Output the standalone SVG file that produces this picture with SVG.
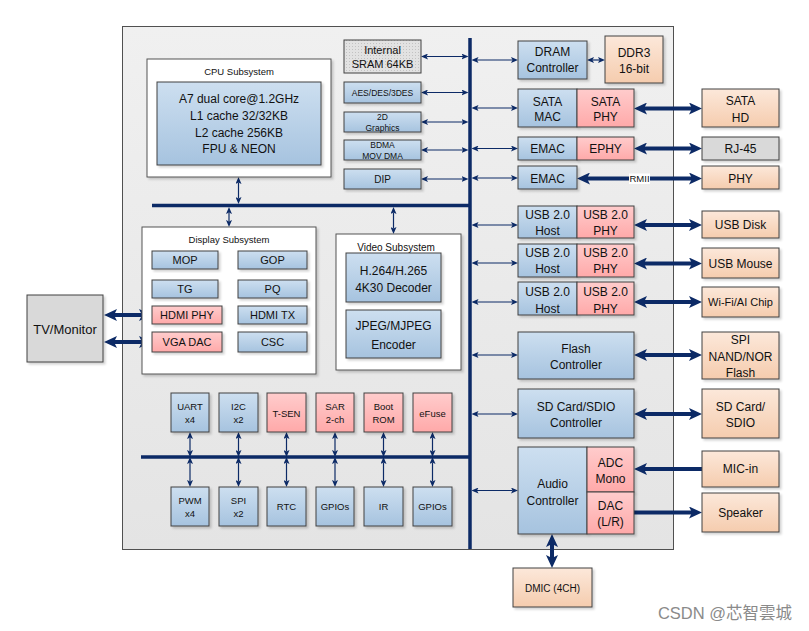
<svg xmlns="http://www.w3.org/2000/svg" width="809" height="631" viewBox="0 0 809 631">
<defs>
  <linearGradient id="gBlue" x1="0" y1="0" x2="0" y2="1"><stop offset="0" stop-color="#cddff0"/><stop offset="1" stop-color="#a6c3df"/></linearGradient>
  <linearGradient id="gPink" x1="0" y1="0" x2="0" y2="1"><stop offset="0" stop-color="#ffcccc"/><stop offset="1" stop-color="#ffa9a9"/></linearGradient>
  <linearGradient id="gPeach" x1="0" y1="0" x2="0" y2="1"><stop offset="0" stop-color="#fce8da"/><stop offset="1" stop-color="#f5ccae"/></linearGradient>
  <linearGradient id="gChip" x1="0" y1="0" x2="0" y2="1"><stop offset="0" stop-color="#f0f0f0"/><stop offset="1" stop-color="#e4e4e4"/></linearGradient>
  <pattern id="pDots" width="3" height="3" patternUnits="userSpaceOnUse"><rect width="3" height="3" fill="#e2e2e2"/><rect x="1" y="1" width="1" height="1" fill="#c2c2c2"/></pattern>
  <filter id="sh" x="-10%" y="-10%" width="130%" height="130%"><feDropShadow dx="2" dy="2" stdDeviation="1" flood-color="#000" flood-opacity="0.18"/></filter>
  <marker id="ah" viewBox="0 0 7 6" markerWidth="7" markerHeight="6" refX="1.5" refY="3" orient="auto-start-reverse" markerUnits="userSpaceOnUse"><path d="M0,0 L7,3 L0,6 L1.5,3 z" fill="#0c2a66"/></marker>
  <marker id="big" viewBox="0 0 13 12" markerWidth="13" markerHeight="12" refX="3" refY="6" orient="auto-start-reverse" markerUnits="userSpaceOnUse"><path d="M0,0 L13,6 L0,12 L3,6 z" fill="#0c2a66"/></marker>
</defs>
<style>
  text{font-family:"Liberation Sans",Arial,sans-serif;fill:#111;text-anchor:middle}
  .b{fill:url(#gBlue);stroke:#404040;stroke-width:1;filter:url(#sh)}
  .p{fill:url(#gPink);stroke:#404040;stroke-width:1;filter:url(#sh)}
  .o{fill:url(#gPeach);stroke:#404040;stroke-width:1;filter:url(#sh)}
  .g{fill:#d9d9d9;stroke:#404040;stroke-width:1;filter:url(#sh)}
  .w{fill:#fff;stroke:#555;stroke-width:1;filter:url(#sh)}
  .t12{font-size:12px}
  .t11{font-size:11px}
  .t10{font-size:10px}
  .t9{font-size:9.5px}
  .t8{font-size:8.5px}
  .bus{stroke:#0c2a66;stroke-width:3.5;fill:none}
  .thin{stroke:#0c2a66;stroke-width:1.2;fill:none;marker-start:url(#ah);marker-end:url(#ah)}
  .thick{stroke:#0c2a66;stroke-width:4;fill:none;marker-start:url(#big);marker-end:url(#big)}
  .thick1{stroke:#0c2a66;stroke-width:4;fill:none;marker-end:url(#big)}
</style>

<g id="chip"><rect x="122.5" y="26.5" width="551" height="523" fill="url(#gChip)" stroke="#505050" stroke-width="1"/></g>

<g id="connectors">
  <line class="bus" x1="470" y1="38" x2="470" y2="549"/>
  <line class="bus" x1="152" y1="205.5" x2="470" y2="205.5"/>
  <line class="bus" x1="141" y1="457" x2="470" y2="457"/>
  <line class="thin" x1="426.5" y1="56.5" x2="463" y2="56.5"/>
  <line class="thin" x1="426.5" y1="92.5" x2="463" y2="92.5"/>
  <line class="thin" x1="426.5" y1="122" x2="463" y2="122"/>
  <line class="thin" x1="426.5" y1="150" x2="463" y2="150"/>
  <line class="thin" x1="426.5" y1="179" x2="463" y2="179"/>
  <line class="thin" x1="477" y1="60" x2="512.5" y2="60"/>
  <line class="thin" x1="477" y1="108" x2="512.5" y2="108"/>
  <line class="thin" x1="477" y1="148.5" x2="512.5" y2="148.5"/>
  <line class="thin" x1="477" y1="178" x2="512.5" y2="178"/>
  <line class="thin" x1="477" y1="225" x2="512.5" y2="225"/>
  <line class="thin" x1="477" y1="263" x2="512.5" y2="263"/>
  <line class="thin" x1="477" y1="302" x2="512.5" y2="302"/>
  <line class="thin" x1="477" y1="355" x2="512.5" y2="355"/>
  <line class="thin" x1="477" y1="414" x2="512.5" y2="414"/>
  <line class="thin" x1="477" y1="490.5" x2="512.5" y2="490.5"/>
  <line class="thin" x1="592.5" y1="60" x2="599.5" y2="60"/>
  <line class="thin" x1="238.5" y1="182.5" x2="238.5" y2="198.5"/>
  <line class="thin" x1="229" y1="212.5" x2="229" y2="221.5"/>
  <line class="thin" x1="393.5" y1="212.5" x2="393.5" y2="228.5"/>
  <line class="thin" x1="190" y1="437.5" x2="190" y2="451.5"/>
  <line class="thin" x1="190" y1="462.5" x2="190" y2="481.5"/>
  <line class="thin" x1="238.5" y1="437.5" x2="238.5" y2="451.5"/>
  <line class="thin" x1="238.5" y1="462.5" x2="238.5" y2="481.5"/>
  <line class="thin" x1="286.5" y1="437.5" x2="286.5" y2="451.5"/>
  <line class="thin" x1="286.5" y1="462.5" x2="286.5" y2="481.5"/>
  <line class="thin" x1="335" y1="437.5" x2="335" y2="451.5"/>
  <line class="thin" x1="335" y1="462.5" x2="335" y2="481.5"/>
  <line class="thin" x1="383.5" y1="437.5" x2="383.5" y2="451.5"/>
  <line class="thin" x1="383.5" y1="462.5" x2="383.5" y2="481.5"/>
  <line class="thin" x1="432.5" y1="437.5" x2="432.5" y2="451.5"/>
  <line class="thin" x1="432.5" y1="462.5" x2="432.5" y2="481.5"/>
  <line class="thick" x1="644" y1="108.5" x2="692" y2="108.5"/>
  <line class="thick" x1="644" y1="148.5" x2="692" y2="148.5"/>
  <line class="thick" x1="587" y1="178.5" x2="692" y2="178.5"/>
  <line class="thick" x1="644" y1="225" x2="692" y2="225"/>
  <line class="thick" x1="644" y1="263.5" x2="692" y2="263.5"/>
  <line class="thick" x1="644" y1="302" x2="692" y2="302"/>
  <line class="thick" x1="644" y1="355" x2="692" y2="355"/>
  <line class="thick" x1="644" y1="414" x2="692" y2="414"/>
  <line class="thick1" x1="702" y1="469" x2="644" y2="469"/>
  <line class="thick1" x1="634" y1="512.5" x2="692" y2="512.5"/>
  <line class="thick" x1="552" y1="544" x2="552" y2="558"/>
  <line class="thick" x1="114" y1="315" x2="142" y2="315"/>
  <line class="thick" x1="114" y1="342" x2="142" y2="342"/>
  <rect x="629" y="173.5" width="21" height="10.5" fill="#fff"/>
  <text x="639.5" y="182" style="font-size:9.5px">RMII</text>
</g>

<g id="cpu">
  <rect class="w" x="147" y="59" width="184" height="118"/>
  <text class="t9" x="239" y="75">CPU Subsystem</text>
  <rect class="b" x="157" y="82" width="164" height="83"/>
  <text class="t12" x="239" y="103">A7 dual core@1.2GHz</text>
  <text class="t12" x="239" y="120">L1 cache 32/32KB</text>
  <text class="t12" x="239" y="137">L2 cache 256KB</text>
  <text class="t12" x="239" y="152.5">FPU &amp; NEON</text>
</g>

<g id="sram"><rect x="344" y="40" width="77" height="33" fill="url(#pDots)" stroke="#404040"/><text class="t11" x="382.5" y="54">Internal</text><text class="t11" x="382.5" y="67.5">SRAM 64KB</text></g>
<g id="aes"><rect class="b" x="344" y="82" width="77" height="21"/><text class="t8" x="382.5" y="95.5">AES/DES/3DES</text></g>
<g id="g2d"><rect class="b" x="344" y="112" width="77" height="20"/><text class="t8" x="382.5" y="119.5">2D</text><text class="t8" x="382.5" y="130.5">Graphics</text></g>
<g id="bdma"><rect class="b" x="344" y="140" width="77" height="20"/><text class="t8" x="382.5" y="148">BDMA</text><text class="t8" x="382.5" y="159">MOV DMA</text></g>
<g id="dip"><rect class="b" x="344" y="169" width="77" height="20"/><text class="t10" x="382.5" y="182.5">DIP</text></g>

<g id="dram"><rect class="b" x="518" y="41" width="69" height="38"/><text class="t12" x="552.5" y="56">DRAM</text><text class="t12" x="552.5" y="72">Controller</text></g>
<g id="ddr3"><rect class="o" x="605" y="36" width="58" height="47"/><text class="t12" x="634" y="56.5">DDR3</text><text class="t12" x="634" y="72.5">16-bit</text></g>
<g id="sata"><rect class="b" x="518" y="89" width="59" height="38"/><rect class="p" x="577" y="89" width="57" height="38"/><text class="t12" x="547.5" y="105.5">SATA</text><text class="t12" x="547.5" y="120.5">MAC</text><text class="t12" x="605.5" y="105.5">SATA</text><text class="t12" x="605.5" y="120.5">PHY</text></g>
<g id="satahd"><rect class="o" x="702" y="89" width="77" height="38"/><text class="t12" x="740.5" y="104.5">SATA</text><text class="t12" x="740.5" y="121.5">HD</text></g>
<g id="emac1"><rect class="b" x="518" y="137" width="59" height="23"/><rect class="p" x="577" y="137" width="57" height="23"/><text class="t12" x="547.5" y="153">EMAC</text><text class="t12" x="605.5" y="153">EPHY</text></g>
<g id="rj45"><rect class="g" x="702" y="137" width="77" height="23"/><text class="t12" x="740.5" y="153">RJ-45</text></g>
<g id="emac2"><rect class="b" x="518" y="166" width="59" height="23"/><text class="t12" x="547.5" y="182.5">EMAC</text></g>
<g id="phy"><rect class="o" x="702" y="166" width="77" height="23"/><text class="t12" x="740.5" y="182.5">PHY</text></g>

<g id="usb1"><rect class="b" x="518" y="206" width="59" height="32"/><rect class="p" x="577" y="206" width="57" height="32"/><text class="t12" x="547.5" y="218.5">USB 2.0</text><text class="t12" x="547.5" y="235">Host</text><text class="t12" x="605.5" y="218.5">USB 2.0</text><text class="t12" x="605.5" y="235">PHY</text></g>
<g id="usbdisk"><rect class="o" x="702" y="211" width="77" height="27"/><text class="t12" x="740.5" y="229">USB Disk</text></g>
<g id="usb2"><rect class="b" x="518" y="244" width="59" height="33"/><rect class="p" x="577" y="244" width="57" height="33"/><text class="t12" x="547.5" y="256.5">USB 2.0</text><text class="t12" x="547.5" y="273">Host</text><text class="t12" x="605.5" y="256.5">USB 2.0</text><text class="t12" x="605.5" y="273">PHY</text></g>
<g id="usbmouse"><rect class="o" x="702" y="248" width="77" height="30"/><text class="t12" x="740.5" y="267.5">USB Mouse</text></g>
<g id="usb3"><rect class="b" x="518" y="282" width="59" height="33"/><rect class="p" x="577" y="282" width="57" height="33"/><text class="t12" x="547.5" y="296">USB 2.0</text><text class="t12" x="547.5" y="312.5">Host</text><text class="t12" x="605.5" y="296">USB 2.0</text><text class="t12" x="605.5" y="312.5">PHY</text></g>
<g id="wifi"><rect class="o" x="702" y="287" width="77" height="30"/><text class="t11" x="740.5" y="306">Wi-Fi/AI Chip</text></g>

<g id="flash"><rect class="b" x="518" y="332" width="116" height="47"/><text class="t12" x="576" y="352.5">Flash</text><text class="t12" x="576" y="369">Controller</text></g>
<g id="spiflash"><rect class="o" x="702" y="332" width="77" height="47"/><text class="t12" x="740.5" y="344">SPI</text><text class="t12" x="740.5" y="360.5">NAND/NOR</text><text class="t12" x="740.5" y="377">Flash</text></g>
<g id="sdctrl"><rect class="b" x="518" y="389" width="116" height="49"/><text class="t12" x="576" y="410.5">SD Card/SDIO</text><text class="t12" x="576" y="427">Controller</text></g>
<g id="sdcard"><rect class="o" x="702" y="389" width="77" height="49"/><text class="t12" x="740.5" y="410.5">SD Card/</text><text class="t12" x="740.5" y="427">SDIO</text></g>
<g id="audio"><rect class="b" x="518" y="447" width="69" height="87"/><rect class="p" x="587" y="447" width="47" height="45"/><rect class="p" x="587" y="492" width="47" height="42"/><text class="t12" x="552.5" y="487.5">Audio</text><text class="t12" x="552.5" y="504.5">Controller</text><text class="t12" x="610.5" y="466.5">ADC</text><text class="t12" x="610.5" y="482.5">Mono</text><text class="t12" x="610.5" y="509.5">DAC</text><text class="t12" x="610.5" y="526">(L/R)</text></g>
<g id="micin"><rect class="o" x="702" y="451" width="77" height="36"/><text class="t12" x="740.5" y="473">MIC-in</text></g>
<g id="speaker"><rect class="o" x="702" y="493" width="77" height="39"/><text class="t12" x="740.5" y="517">Speaker</text></g>
<g id="dmic"><rect class="o" x="513" y="568" width="79" height="39"/><text class="t10" x="552.5" y="591.5">DMIC (4CH)</text></g>

<g id="display">
  <rect class="w" x="142" y="227" width="174" height="147"/>
  <text class="t9" x="229" y="242.5">Display Subsystem</text>
  <rect class="b" x="152" y="251" width="66" height="18"/><text class="t11" x="185" y="264">MOP</text>
  <rect class="b" x="238" y="251" width="69" height="18"/><text class="t11" x="272.5" y="264">GOP</text>
  <rect class="b" x="152" y="280" width="66" height="18"/><text class="t11" x="185" y="293">TG</text>
  <rect class="b" x="238" y="280" width="69" height="18"/><text class="t11" x="272.5" y="293">PQ</text>
  <rect class="p" x="152" y="306" width="70" height="18"/><text class="t11" x="187" y="319">HDMI PHY</text>
  <rect class="b" x="238" y="306" width="69" height="18"/><text class="t11" x="272.5" y="319">HDMI TX</text>
  <rect class="p" x="152" y="332" width="70" height="20"/><text class="t11" x="187" y="346">VGA DAC</text>
  <rect class="b" x="238" y="332" width="69" height="20"/><text class="t11" x="272.5" y="346">CSC</text>
</g>

<g id="video">
  <rect class="w" x="336" y="234" width="125" height="136"/>
  <text class="t10" x="396" y="250.5">Video Subsystem</text>
  <rect class="b" x="346" y="253" width="95" height="49"/>
  <text class="t12" x="393.5" y="274.5">H.264/H.265</text><text class="t12" x="393.5" y="292">4K30 Decoder</text>
  <rect class="b" x="346" y="310" width="95" height="48"/>
  <text class="t12" x="393.5" y="329.5">JPEG/MJPEG</text><text class="t12" x="393.5" y="348.5">Encoder</text>
</g>

<g id="tv"><rect class="g" x="27" y="295" width="76" height="67"/><text x="65" y="333.5" style="font-size:13px">TV/Monitor</text></g>

<g id="uart"><rect class="b" x="171" y="393" width="38" height="39"/><text class="t9" x="190" y="409.5">UART</text><text class="t9" x="190" y="423">x4</text></g>
<g id="i2c"><rect class="b" x="219" y="393" width="39" height="39"/><text class="t9" x="238.5" y="409.5">I2C</text><text class="t9" x="238.5" y="423">x2</text></g>
<g id="tsen"><rect class="p" x="267" y="393" width="39" height="39"/><text class="t9" x="286.5" y="416.5">T-SEN</text></g>
<g id="sar"><rect class="p" x="316" y="393" width="38" height="39"/><text class="t9" x="335" y="409.5">SAR</text><text class="t9" x="335" y="423">2-ch</text></g>
<g id="bootrom"><rect class="p" x="364" y="393" width="39" height="39"/><text class="t9" x="383.5" y="409.5">Boot</text><text class="t9" x="383.5" y="423">ROM</text></g>
<g id="efuse"><rect class="p" x="413" y="393" width="39" height="39"/><text class="t9" x="432.5" y="416.5">eFuse</text></g>
<g id="pwm"><rect class="b" x="171" y="487" width="38" height="39"/><text class="t9" x="190" y="503.5">PWM</text><text class="t9" x="190" y="517">x4</text></g>
<g id="spi"><rect class="b" x="219" y="487" width="39" height="39"/><text class="t9" x="238.5" y="503.5">SPI</text><text class="t9" x="238.5" y="517">x2</text></g>
<g id="rtc"><rect class="b" x="267" y="487" width="39" height="39"/><text class="t9" x="286.5" y="510">RTC</text></g>
<g id="gpios1"><rect class="b" x="316" y="487" width="38" height="39"/><text class="t9" x="335" y="510">GPIOs</text></g>
<g id="ir"><rect class="b" x="364" y="487" width="39" height="39"/><text class="t9" x="383.5" y="510">IR</text></g>
<g id="gpios2"><rect class="b" x="413" y="487" width="39" height="39"/><text class="t9" x="432.5" y="510">GPIOs</text></g>

<g id="credit"><text x="725" y="619" style="font-size:16.5px;fill:#8a8a8a;font-family:'Liberation Sans','Noto Sans CJK SC',sans-serif">CSDN @芯智雲城</text></g>
</svg>
